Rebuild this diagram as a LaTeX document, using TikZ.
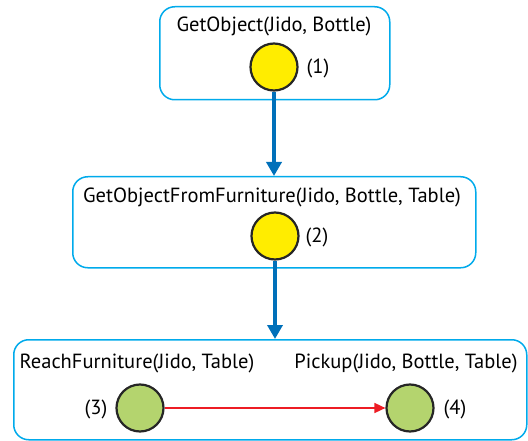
\documentclass[tikz,border=0pt]{standalone}
\usepackage{fontspec}
\setmainfont{PT Sans}
\usetikzlibrary{arrows.meta}
\definecolor{boxblue}{RGB}{0,170,235}
\definecolor{arrblue}{RGB}{0,112,186}
\definecolor{arrred}{RGB}{237,28,36}
\definecolor{ylw}{RGB}{255,237,0}
\definecolor{grn}{RGB}{180,212,110}
\tikzset{
  grp/.style={draw=boxblue, line width=1.5pt, rounded corners=15pt},
  task/.style={circle, draw=black!85, line width=2.2pt, minimum size=47pt, inner sep=0pt},
  ttl/.style={font=\fontsize{20.5}{24}\selectfont, inner sep=0pt},
  num/.style={font=\fontsize{20.5}{24}\selectfont, inner sep=0pt},
  bigarr/.style={draw=arrblue, line width=4pt, -{Triangle[length=14pt,width=15pt]}},
  redarr/.style={draw=arrred, line width=1.6pt, -{Triangle[length=11pt,width=10pt]}}
}
\begin{document}
\begin{tikzpicture}[x=1pt,y=-1pt]
\useasboundingbox (0,0) rectangle (528,441);
% boxes
\node[grp, minimum width=230pt, minimum height=93pt, anchor=north west] (b1) at (159,6) {};
\node[grp, minimum width=403pt, minimum height=91pt, anchor=north west] (b2) at (72,176) {};
\node[grp, minimum width=513pt, minimum height=100pt, anchor=north west] (b3) at (13,339) {};
% titles
\node[ttl] (t1) at (274,26) {GetObject(Jido, Bottle)};
\node[ttl] (t2) at (272,197) {GetObjectFromFurniture(Jido, Bottle, Table)};
\node[ttl] (t3) at (137,363) {ReachFurniture(Jido, Table)};
\node[ttl] (t4) at (406,363) {Pickup(Jido, Bottle, Table)};
% circles
\node[task, fill=ylw] (c1) at (274,67) {};
\node[task, fill=ylw] (c2) at (275,236) {};
\node[task, fill=grn] (c3) at (140,408) {};
\node[task, fill=grn] (c4) at (410,408) {};
% numbers
\node[num] (n1) at (318,68) {(1)};
\node[num] (n2) at (317,237) {(2)};
\node[num] (n3) at (96,409) {(3)};
\node[num] (n4) at (455,409) {(4)};
% arrows
\draw[bigarr] (c1.south) -- (c1.south |- b2.north);
\draw[bigarr] (c2.south) -- (c2.south |- b3.north);
\draw[redarr] (c3.east) -- (c4.west);
\end{tikzpicture}
\end{document}
